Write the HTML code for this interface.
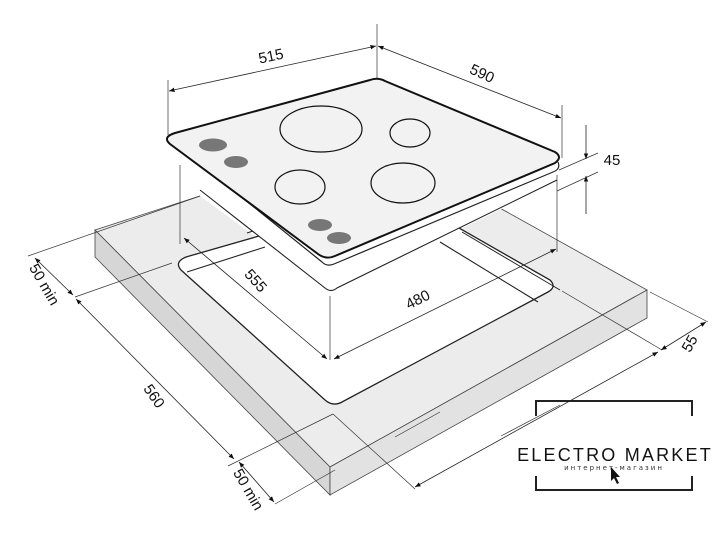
<!DOCTYPE html>
<html><head><meta charset="utf-8"><style>
html,body{margin:0;padding:0;background:#fff;}
svg{display:block;font-family:"Liberation Sans","DejaVu Sans",sans-serif;}
</style></head><body>
<svg width="727" height="533" viewBox="0 0 727 533" xmlns="http://www.w3.org/2000/svg">
<defs>
<marker id="a" viewBox="0 0 10 10" refX="10" refY="5" markerWidth="7" markerHeight="7" orient="auto-start-reverse"><path d="M0,1 L10,5 L0,9 z" fill="#111"/></marker>
</defs>
<!-- slab -->
<polygon points="95,230 376,139 647,290 330,467" fill="#ececec" stroke="#444" stroke-width="0.8"/>
<polygon points="95,230 330,467 330,495 95,257" fill="#d6d6d6" stroke="#444" stroke-width="0.8"/>
<polygon points="330,467 647,290 647,318 330,495" fill="#e2e2e2" stroke="#444" stroke-width="0.8"/>
<!-- white mask hiding slab back behind hob -->
<polygon points="150,140 200,196 331,292 557,182 600,160 600,30 150,30" fill="#fff"/>
<!-- cutout -->
<path d="M186,257 L395,197 Q403,193 410,200 L550,280 Q557,287 548,292 L342,402 Q333,407 325,400 L181,270 Q174,262 186,257 z" fill="#fff" stroke="#222" stroke-width="1.3"/>
<line x1="187" y1="272" x2="265" y2="247" stroke="#222" stroke-width="1.1"/>
<line x1="247" y1="233" x2="262" y2="228" stroke="#222" stroke-width="1.1"/>
<line x1="440" y1="242" x2="538" y2="302" stroke="#222" stroke-width="1.1"/>
<line x1="462" y1="232" x2="560" y2="290" stroke="#222" stroke-width="1"/>
<!-- hob body -->
<path d="M200,190 L325,288 Q331,293 337,288 L557,180" fill="#fff" stroke="#222" stroke-width="1.1"/>
<polygon points="168,145 377,86 559,165 326,262" fill="#fff"/>
<!-- hob plate -->
<path d="M172,141 L322,262 Q327,267 334,264 L553,172 Q561,169 558,162" fill="none" stroke="#222" stroke-width="1.2"/>
<path d="M175,133 L370,80 Q378,77 385,81 L555,152 Q563,157 555,163 L335,256 Q326,260 318,254 L170,144 Q162,137 175,133 z" fill="#f2f2f2" stroke="#111" stroke-width="2"/>
<ellipse cx="321" cy="129" rx="41" ry="23" fill="none" stroke="#111" stroke-width="1.2"/>
<ellipse cx="410" cy="133" rx="20" ry="14" fill="none" stroke="#111" stroke-width="1.2"/>
<ellipse cx="300" cy="187" rx="25" ry="17" fill="none" stroke="#111" stroke-width="1.2"/>
<ellipse cx="403" cy="183" rx="32" ry="20" fill="none" stroke="#111" stroke-width="1.2"/>
<ellipse cx="213" cy="145" rx="14" ry="6.5" fill="#777"/>
<ellipse cx="236" cy="162" rx="12" ry="6" fill="#777"/>
<ellipse cx="320" cy="225" rx="12" ry="6" fill="#777"/>
<ellipse cx="339" cy="238" rx="12" ry="6" fill="#777"/>
<!-- extension lines -->
<g stroke="#333" stroke-width="0.7" fill="none">
<line x1="168" y1="80" x2="168" y2="135"/>
<line x1="377" y1="24" x2="377" y2="78"/>
<line x1="562" y1="105" x2="562" y2="158"/>
<line x1="180" y1="165" x2="180" y2="244"/>
<line x1="557" y1="175" x2="557" y2="252"/>
<line x1="330" y1="296" x2="330" y2="360"/>
<line x1="559" y1="170" x2="598" y2="153"/>
<line x1="557" y1="191" x2="598" y2="172"/>
<line x1="28" y1="256" x2="200" y2="196"/>
<line x1="75" y1="297" x2="172" y2="263"/>
<line x1="228" y1="466" x2="333" y2="414"/>
<line x1="275" y1="504" x2="335" y2="470"/>
<line x1="333" y1="414" x2="415" y2="489"/>
<line x1="562" y1="291" x2="662" y2="350"/>
<line x1="650" y1="292" x2="708" y2="322"/>
<line x1="501" y1="436" x2="560" y2="405"/>
<line x1="395" y1="437" x2="440" y2="412"/>
</g>
<!-- dimension lines -->
<g stroke="#222" stroke-width="0.8" fill="none" marker-start="url(#a)" marker-end="url(#a)">
<line x1="169" y1="91" x2="376" y2="46"/>
<line x1="378" y1="46" x2="561" y2="118"/>
<line x1="184" y1="238" x2="327" y2="359"/>
<line x1="334" y1="359" x2="556" y2="249"/>
<line x1="35" y1="258" x2="73" y2="295"/>
<line x1="76" y1="299" x2="234" y2="459"/>
<line x1="239" y1="462" x2="274" y2="502"/>
<line x1="661" y1="350" x2="706" y2="322"/>
<line x1="415" y1="487" x2="658" y2="352"/>
</g>
<g stroke="#222" stroke-width="0.8" marker-end="url(#a)">
<line x1="586" y1="125" x2="586" y2="159"/>
<line x1="586" y1="214" x2="586" y2="176"/>
</g>
<!-- labels -->
<g font-family="'Liberation Sans Narrow','Liberation Sans',sans-serif" font-size="15" fill="#111" text-anchor="middle">
<text transform="translate(272,61) rotate(-12)">515</text>
<text transform="translate(480,78) rotate(25)">590</text>
<text x="612" y="165">45</text>
<text transform="translate(252,284) rotate(48)">555</text>
<text transform="translate(420,304) rotate(-27)">480</text>
<text transform="translate(40,287) rotate(60)">50 min</text>
<text transform="translate(150,399) rotate(55)">560</text>
<text transform="translate(244,492) rotate(60)">50 min</text>
<text transform="translate(694,346) rotate(-60)">55</text>
</g>
<!-- logo -->
<g stroke="#222" stroke-width="2" fill="none">
<polyline points="536,416 536,401 692,401 692,416"/>
<polyline points="536,476 536,490 692,490 692,476"/>
</g>
<text x="615" y="461" text-anchor="middle" font-size="18" letter-spacing="2.2" fill="#111">ELECTRO MARKET</text>
<text x="614" y="470" text-anchor="middle" font-size="7" letter-spacing="2" fill="#333" font-family="'DejaVu Sans',sans-serif">интернет-магазин</text>
<path d="M611,467 L611,481 L614,478 L617,484 L619,483 L616,477 L620,477 z" fill="#111"/>
</svg>
</body></html>
